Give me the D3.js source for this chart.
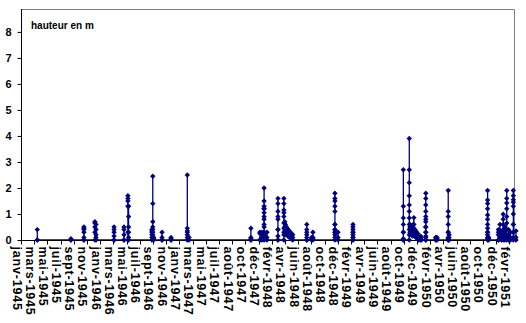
<!DOCTYPE html>
<html>
<head>
<meta charset="utf-8">
<script src="https://cdn.jsdelivr.net/npm/d3@7/dist/d3.min.js"></script>
<style>
  html, body { margin: 0; padding: 0; background: #fff; }
  svg { display: block; }
  text { font-family: "Liberation Sans", Arial, sans-serif; font-weight: bold; font-size: 10px; fill: #000; }
</style>
</head>
<body>
<svg id="chart" width="526" height="323"></svg>
<script>
// ---- data ----
const yTicks = [0, 1, 2, 3, 4, 5, 6, 7, 8];
const tickLabels = [
  "janv-1945","mars-1945","mai-1945","juil-1945","sept-1945","nov-1945",
  "janv-1946","mars-1946","mai-1946","juil-1946","sept-1946","nov-1946",
  "janv-1947","mars-1947","mai-1947","juil-1947","août-1947","oct-1947","déc-1947",
  "févr-1948","avr-1948","juin-1948","août-1948","oct-1948","déc-1948",
  "févr-1949","avr-1949","juin-1949","août-1949","oct-1949","déc-1949",
  "févr-1950","avr-1950","juin-1950","août-1950","oct-1950","déc-1950",
  "févr-1951"
];
const eventDates = [
  "1945-03-27","1945-08-27","1945-10-25","1945-12-14","1945-12-19",
  "1946-03-11","1946-04-25","1946-05-13","1946-05-16",
  "1946-08-30","1946-09-03","1946-09-07","1946-10-15","1946-11-25",
  "1947-02-07","1947-02-15","1947-11-23",
  "1948-01-03","1948-01-12","1948-01-22","1948-02-04",
  "1948-03-25","1948-04-21","1948-04-25","1948-04-28","1948-05-02","1948-05-06",
  "1948-05-10","1948-05-15","1948-05-20","1948-05-26","1948-05-31",
  "1948-08-03","1948-08-25","1948-08-31","1948-12-09","1948-12-23",
  "1949-03-01",
  "1949-10-16","1949-11-12","1949-11-15","1949-11-18","1949-11-22","1949-11-26",
  "1949-11-30","1949-12-03","1949-12-07","1949-12-11","1949-12-15","1949-12-20",
  "1949-12-24","1950-01-02","1950-01-06",
  "1950-01-26","1950-03-13","1950-03-18","1950-05-08","1950-05-12",
  "1950-11-03","1950-11-08",
  "1950-12-22","1950-12-29","1951-01-05","1951-01-13","1951-01-20",
  "1951-01-29","1951-02-06","1951-02-15","1951-02-28","1951-03-12"
];
const eventLevels = [
  [0, 0.4, 0],
  [0, 0.05, 0],
  [0, 0.5, 0.45, 0.4, 0.3, 0.1, 0],
  [0, 0.7, 0.65, 0.5, 0.3],
  [0.6, 0.4, 0.2, 0.1, 0],
  [0, 0.5, 0.4, 0.3, 0.15, 0],
  [0, 0.5, 0.4, 0.2, 0],
  [0, 0.3, 1.7, 1.6, 1.5, 1.3],
  [1.3, 0.9, 0.5, 0.3, 0.1, 0],
  [0, 0.35, 0.4, 0.3, 0.2, 0.1],
  [0.1, 2.45, 1.4, 0.7, 0.5, 0.4, 0.3, 0.2, 0.1],
  [0.1, 0.05, 0],
  [0, 0.3, 0.1, 0],
  [0, 0.1, 0.05, 0],
  [0, 0.35, 0.45, 2.5, 0.3, 0.2, 0.1],
  [0.1, 0],
  [0, 0.45, 0.1, 0.05, 0],
  [0, 0.3, 0.25, 0],
  [0, 0.3, 0.1],
  [0, 0.1, 0.3, 0.5, 0.8, 0.9, 1.05, 1.2, 1.3, 1.5, 2.0, 1.2, 0.6, 0.3, 0.2],
  [0.3, 0.1, 0],
  [0, 0.15, 0.4, 0.8, 0.9, 1.1, 1.4, 1.6, 0.4, 0],
  [0, 1.6, 1.4, 1.15, 1.05, 0.9, 0.65, 0.45, 0.3, 0.2],
  [0.7, 0.5, 0.35],
  [0.6, 0.45, 0.3, 0.2],
  [0.5, 0.4, 0.3],
  [0.45, 0.3, 0.2],
  [0.4, 0.3, 0.15],
  [0.35, 0.25, 0.1],
  [0.3, 0.2, 0.1],
  [0.25, 0.15, 0.05],
  [0.2, 0.1, 0],
  [0, 0.2, 0.4, 0.6, 0.3, 0.1, 0],
  [0, 0.1, 0.05],
  [0.05, 0.3, 0.1, 0],
  [0, 0.1, 0.3, 0.4, 0.6, 1.1, 1.3, 1.5, 1.6, 1.8, 0.6, 0.4, 0.3, 0.2],
  [0.3, 0.1, 0],
  [0, 0.1, 0.2, 0.3, 0.4, 0.5, 0.6, 0.3, 0.1, 0],
  [0, 0.05, 0.3, 0.6, 0.85, 1.3, 2.7, 0.3, 0],
  [0, 3.9, 2.7, 2.2, 1.7, 1.35, 1.1, 0.85, 0.6, 0.4, 0.2],
  [0.6, 0.5, 0.3],
  [0.55, 0.4, 0.25],
  [0.5, 0.35, 0.2],
  [0.45, 0.3, 0.15],
  [0.6, 0.4, 0.2],
  [0.86, 0.6, 0.45, 0.3],
  [0.4, 0.3, 0.15],
  [0.35, 0.25, 0.1],
  [0.3, 0.2, 0.1],
  [0.25, 0.1, 0.05],
  [0.1, 0],
  [0.15, 0.05, 0],
  [0.1, 0],
  [0, 0.1, 0.3, 0.5, 0.7, 0.9, 1.1, 1.35, 1.6, 1.8, 0.8, 0.5, 0.3, 0.15, 0],
  [0, 0.1, 0.05, 0.1, 0],
  [0.1, 0.05, 0],
  [0, 0.05, 0.3, 0.6, 0.9, 1.1, 1.9, 0.3, 0.1, 0],
  [0.2, 0.1, 0],
  [0, 0.07, 0.2, 0.3, 0.45, 0.6, 0.8, 0.96, 1.2, 1.4, 1.54, 1.9, 0.3, 0.1],
  [0.1, 0.05, 0],
  [0, 0.3, 0.4, 0.2, 0],
  [0.1, 0.38, 0.6, 0.3, 0.1],
  [0.1, 0.3, 0.2, 0],
  [0, 0.99, 0.8, 0.6, 0.4, 0.25, 0.1],
  [0.1, 0.3, 0.5, 0.2, 0],
  [0, 0.65, 0.9, 1.2, 1.42, 1.6, 1.9, 0.4, 0.1],
  [0.1, 0.4, 0.2, 0],
  [0, 0.3, 0.1],
  [0, 0.3, 0.6, 1.0, 1.3, 1.45, 1.55, 1.7, 1.9, 0.6, 0.3, 0.1],
  [0.1, 0.35, 0]
];

// ---- layout ----
const parse = d3.utcParse("%Y-%m-%d");
const axisStart = parse("1945-01-12");
const axisEnd = d3.utcDay.offset(axisStart, 2241);
const plotL = 21, plotR = 514, plotT = 9, plotB = 240;

const x = d3.scaleUtc().domain([axisStart, axisEnd]).range([plotL, plotR]);
const y = d3.scaleLinear().domain([0, 8.88]).range([plotB, plotT]);

const svg = d3.select("#chart");

// plot area border (top and right, grey)
svg.append("path")
  .attr("d", `M${plotL},${plotT + 0.5}H${plotR + 0.5}V${plotB}`)
  .attr("fill", "none").attr("stroke", "#808080").attr("stroke-width", 1);

// flatten points
const points = [];
eventDates.forEach((ds, i) => {
  const dt = parse(ds);
  eventLevels[i].forEach(v => points.push({ date: dt, value: v }));
});

const line = d3.line().x(d => x(d.date)).y(d => y(d.value));
svg.append("path")
  .datum(points)
  .attr("d", line)
  .attr("fill", "none")
  .attr("stroke", "#000080")
  .attr("stroke-width", 1.3);

// axes
const yAxis = d3.axisLeft(y).tickValues(yTicks).tickSize(4).tickFormat(d3.format("d"));
const gy = svg.append("g").attr("transform", `translate(${plotL + 0.5},0)`).call(yAxis);
gy.select(".domain").attr("d", `M0,${plotT}V${plotB}`).attr("stroke", "#000");
gy.selectAll(".tick line").attr("stroke", "#000");
gy.selectAll(".tick text")
  .attr("x", -10)
  .attr("dy", "0.36em")
  .style("font-family", "'Liberation Sans', Arial, sans-serif")
  .style("font-weight", "bold")
  .style("font-size", "11px")
  .attr("fill", "#000");

const tickDates = tickLabels.map((_, i) => d3.utcDay.offset(axisStart, 60 * i));
const gx = svg.append("g").attr("transform", `translate(0,${plotB + 0.5})`);
gx.append("path").attr("d", `M${plotL},0H${plotR}`).attr("stroke", "#000").attr("fill", "none");
gx.selectAll("line.tk").data(tickDates).enter().append("line")
  .attr("class", "tk")
  .attr("x1", d => Math.round(x(d)) + 0.5).attr("x2", d => Math.round(x(d)) + 0.5)
  .attr("y1", 0).attr("y2", 4)
  .attr("stroke", "#000");
gx.selectAll("text.tl").data(tickLabels).enter().append("text")
  .attr("class", "tl")
  .attr("transform", (d, i) => `translate(${x(tickDates[i]) - 4.5},${6}) rotate(90)`)
  .attr("text-anchor", "start")
  .attr("dominant-baseline", "central")
  .style("font-size", "12.5px")
  .style("letter-spacing", "0.8px")
  .text(d => d);

// markers
const diamond = "M0,-2.7L2.7,0L0,2.7L-2.7,0Z";
svg.append("g").selectAll("path").data(points).enter().append("path")
  .attr("d", diamond)
  .attr("transform", d => `translate(${x(d.date)},${y(d.value)})`)
  .attr("fill", "#000080");

// title
svg.append("text").attr("x", 31).attr("y", 29).text("hauteur en m");
</script>
</body>
</html>
